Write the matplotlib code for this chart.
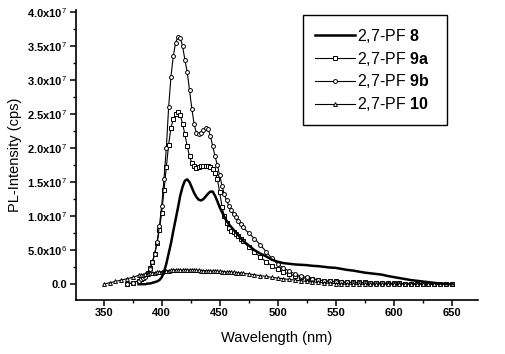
import numpy as np
import matplotlib
matplotlib.use("Agg")
import matplotlib.pyplot as plt
from matplotlib.ticker import FixedLocator, MultipleLocator

plt.rcParams['font.family'] = ['Liberation Sans', 'DejaVu Sans']
plt.rcParams['mathtext.fontset'] = 'custom'
plt.rcParams['mathtext.rm'] = 'Liberation Sans'
plt.rcParams['mathtext.bf'] = 'Liberation Sans:bold'

# wavelength grid (nm)
wl = [350, 355, 360, 365, 370, 375, 380,
      382, 384, 386, 388, 390, 392, 394, 396, 398, 400,
      402, 404, 406, 408, 410, 412, 414, 416, 418, 420,
      422, 424, 426, 428, 430, 432, 434, 436, 438, 440,
      442, 444, 446, 448, 450, 452, 454, 456, 458, 460,
      462, 464, 466, 468, 470,
      475, 480, 485, 490, 495, 500, 505, 510, 515, 520,
      525, 530, 535, 540, 545, 550, 555, 560, 565, 570,
      575, 580, 585, 590, 595, 600, 605, 610, 615, 620,
      625, 630, 635, 640, 645, 650]

nan = np.nan
# intensities in units of 1e7 cps
pf8 = [nan, nan, nan, nan, nan, nan, 0.0,
       0.0, 0.0, 0.0, 0.01, 0.01, 0.02, 0.03, 0.04, 0.06, 0.10,
       0.18, 0.30, 0.45, 0.60, 0.78, 0.95, 1.12, 1.30, 1.43, 1.52,
       1.54, 1.50, 1.42, 1.34, 1.28, 1.24, 1.23, 1.25, 1.29, 1.33,
       1.36, 1.36, 1.30, 1.22, 1.13, 1.06, 0.99, 0.93, 0.88, 0.84,
       0.80, 0.76, 0.72, 0.68, 0.64,
       0.57, 0.50, 0.45, 0.41, 0.36, 0.33, 0.31, 0.30, 0.29, 0.285,
       0.28, 0.27, 0.265, 0.255, 0.245, 0.24, 0.225, 0.21, 0.20, 0.185,
       0.17, 0.16, 0.15, 0.14, 0.12, 0.105, 0.09, 0.075, 0.06, 0.05,
       0.04, 0.03, 0.02, 0.01, 0.005, 0.0]

pf9a = [nan, nan, nan, nan, 0.0, 0.02, 0.05,
        0.07, 0.09, 0.12, 0.17, 0.24, 0.33, 0.45, 0.60, 0.80, 1.05,
        1.38, 1.72, 2.05, 2.30, 2.42, 2.50, 2.53, 2.48, 2.36, 2.20,
        2.03, 1.88, 1.78, 1.73, 1.71, 1.72, 1.73, 1.74, 1.74, 1.73,
        1.72, 1.69, 1.63, 1.55, 1.35, 1.14, 1.00, 0.90, 0.83, 0.78,
        0.76, 0.74, 0.71, 0.67, 0.63,
        0.55, 0.47, 0.40, 0.33, 0.27, 0.22, 0.18, 0.15, 0.12, 0.10,
        0.085, 0.07, 0.06, 0.05, 0.045, 0.04, 0.035, 0.03, 0.03, 0.025,
        0.025, 0.02, 0.02, 0.02, 0.015, 0.015, 0.015, 0.01, 0.01, 0.01,
        0.01, 0.005, 0.005, 0.005, 0.0, 0.0]

pf9b = [nan, nan, nan, nan, 0.0, 0.02, 0.05,
        0.07, 0.09, 0.11, 0.15, 0.22, 0.32, 0.45, 0.62, 0.85, 1.15,
        1.55, 2.00, 2.60, 3.05, 3.35, 3.55, 3.63, 3.62, 3.50, 3.30,
        3.12, 2.85, 2.58, 2.35, 2.22, 2.20, 2.22, 2.27, 2.30, 2.28,
        2.18, 2.03, 1.88, 1.75, 1.60, 1.45, 1.32, 1.23, 1.15, 1.09,
        1.03, 0.98, 0.93, 0.88, 0.84,
        0.75, 0.67, 0.58, 0.48, 0.38, 0.30, 0.24, 0.19, 0.15, 0.12,
        0.10, 0.08, 0.065, 0.05, 0.04, 0.035, 0.03, 0.025, 0.02, 0.02,
        0.02, 0.015, 0.015, 0.015, 0.01, 0.01, 0.01, 0.01, 0.01, 0.005,
        0.005, 0.005, 0.005, 0.0, 0.0, 0.0]

pf10 = [0.0, 0.02, 0.04, 0.06, 0.08, 0.10, 0.13,
        0.135, 0.14, 0.15, 0.155, 0.16, 0.165, 0.17, 0.175, 0.18, 0.185,
        0.19, 0.195, 0.20, 0.205, 0.21, 0.21, 0.21, 0.21, 0.21, 0.21,
        0.21, 0.21, 0.205, 0.205, 0.205, 0.205, 0.20, 0.20, 0.20, 0.20,
        0.195, 0.195, 0.19, 0.19, 0.19, 0.185, 0.185, 0.18, 0.18, 0.175,
        0.175, 0.17, 0.165, 0.165, 0.16,
        0.15, 0.14, 0.125, 0.115, 0.10, 0.09, 0.08, 0.07, 0.06, 0.05,
        0.04, 0.035, 0.025, 0.02, 0.015, 0.01, 0.005, 0.0, 0.0, 0.0,
        0.0, 0.0, 0.0, 0.0, 0.0, 0.0, 0.0, 0.0, 0.0, 0.0,
        0.0, 0.0, 0.0, 0.0, 0.0, 0.0]

labels = [r'2,7-PF $\mathbf{8}$', r'2,7-PF $\mathbf{9a}$',
          r'2,7-PF $\mathbf{9b}$', r'2,7-PF $\mathbf{10}$']

ytick_vals = [0.0, 5.0e6, 1.0e7, 1.5e7, 2.0e7, 2.5e7, 3.0e7, 3.5e7, 4.0e7]
ytick_labels = ['0.0', r'5.0x10$^6$', r'1.0x10$^7$', r'1.5x10$^7$', r'2.0x10$^7$',
                r'2.5x10$^7$', r'3.0x10$^7$', r'3.5x10$^7$', r'4.0x10$^7$']
xtick_vals = [350, 400, 450, 500, 550, 600, 650]

scale = 1e7
x = np.array(wl)

fig = plt.figure(figsize=(5.06, 3.54), dpi=100)
ax = fig.add_axes([0.150, 0.153, 0.795, 0.819])

ax.plot(x, np.array(pf8) * scale, color='black', lw=1.8, label=labels[0], zorder=3)
ax.plot(x, np.array(pf9a) * scale, color='black', lw=0.8, marker='s', ms=2.6,
        mfc='white', mec='black', mew=0.7, label=labels[1])
ax.plot(x, np.array(pf9b) * scale, color='black', lw=0.8, marker='o', ms=2.8,
        mfc='white', mec='black', mew=0.7, label=labels[2])
ax.plot(x, np.array(pf10) * scale, color='black', lw=0.8, marker='^', ms=2.8,
        mfc='white', mec='black', mew=0.7, label=labels[3])

ax.set_xlim(326, 673)
ax.set_ylim(-2.3e6, 4.03e7)
ax.spines['top'].set_visible(False)
ax.spines['right'].set_visible(False)
for s in ['left', 'bottom']:
    ax.spines[s].set_linewidth(1.2)

ax.xaxis.set_major_locator(FixedLocator(xtick_vals))
ax.xaxis.set_minor_locator(MultipleLocator(25))
ax.yaxis.set_major_locator(FixedLocator(ytick_vals))
ax.yaxis.set_minor_locator(MultipleLocator(2.5e6))
ax.set_yticklabels(ytick_labels)
ax.tick_params(which='major', direction='out', length=4, width=1.1, labelsize=8, pad=2)
ax.tick_params(which='minor', direction='out', length=2.5, width=1.0)
for t in ax.get_xticklabels() + ax.get_yticklabels():
    t.set_fontweight('bold')

ax.set_xlabel('Wavelength (nm)', fontsize=10.5, labelpad=9)
ax.set_ylabel('PL-Intensity (cps)', fontsize=10.5, labelpad=4)

leg = ax.legend(loc='upper left', bbox_to_anchor=(0.565, 0.628, 0.358, 0.355),
                mode='expand', fontsize=11.5,
                frameon=True, fancybox=False, edgecolor='black', framealpha=1,
                handlelength=2.5, handletextpad=0.15, labelspacing=0.3,
                borderpad=0.75, borderaxespad=0)
leg.get_frame().set_linewidth(1.0)

fig.savefig('out.png', dpi=100)
